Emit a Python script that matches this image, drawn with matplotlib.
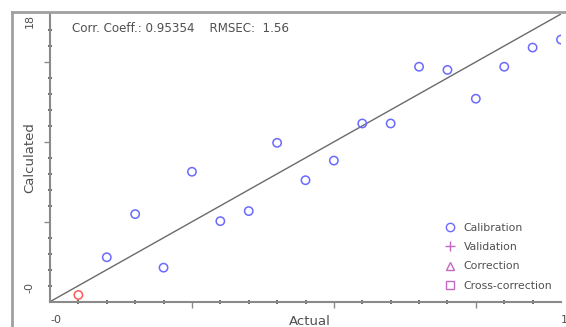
#!/usr/bin/env python3
import numpy as np
import matplotlib.pyplot as plt
from matplotlib.lines import Line2D

actual = [1, 2, 3, 4, 5, 6, 7, 8, 9, 10, 11, 12, 13, 14, 15, 16, 17, 18]
calculated = [0.42, 2.78, 5.48, 2.13, 8.13, 5.04, 5.67, 9.94, 7.6, 8.83,
              11.15, 11.15, 14.7, 14.5, 12.7, 14.7, 15.9, 16.4]
selected = [0]  # index of the highlighted (red) sample
corr_coeff = 0.95354
rmsec = 1.56
legend_names = ['Calibration', 'Validation', 'Correction', 'Cross-correction']

W, H = 566, 327
fig = plt.figure(figsize=(W / 100, H / 100), dpi=100)
ax = fig.add_axes([50 / W, 1 - 301.7 / H, 511 / W, 287.7 / H])

blue = '#6a6aff'
purple = '#c468c4'
grey = '#8a8a8a'
txt = '#505050'

# ideal line
ax.plot([0, 18], [0, 18], color='#6a6a6a', lw=1.0, zorder=2)

x = np.array(actual)
y = np.array(calculated)
mask = np.ones(len(x), bool)
mask[selected] = False
ax.scatter(x[mask], y[mask], s=36, facecolors='none', edgecolors=blue,
           linewidths=1.1, zorder=3)
ax.scatter(x[~mask], y[~mask], s=36, facecolors='none', edgecolors='#ff5a5a',
           linewidths=1.1, zorder=3)

ax.set_xlim(0, 18)
ax.set_ylim(0, 18)
ax.set_xticks([5, 10, 15])
ax.set_yticks([5, 10, 15])
ax.set_xticks(range(1, 18), minor=True)
ax.set_yticks(range(1, 18), minor=True)
ax.tick_params(which='major', length=4, width=1, color=grey, direction='out',
               labelbottom=False, labelleft=False)
ax.tick_params(which='minor', length=3.5, width=1.3, color='#606060',
               direction='inout')
for s in ['top', 'right']:
    ax.spines[s].set_visible(False)
for s in ['left', 'bottom']:
    ax.spines[s].set_color(grey)
    ax.spines[s].set_linewidth(1.5)

fs = 8
ax.text(0.508, -0.045, 'Actual', transform=ax.transAxes, ha='center',
        va='top', fontsize=9.5, color=txt)
ax.text(-0.04, 0.5, 'Calculated', transform=ax.transAxes, ha='center',
        va='center', rotation=90, fontsize=9.5, color=txt)
ax.text(0.0, -0.045, '-0', transform=ax.transAxes, ha='left', va='top',
        fontsize=fs, color=txt)
ax.text(1.0, -0.045, '18', transform=ax.transAxes, ha='left', va='top',
        fontsize=fs, color=txt)
ax.text(-0.04, 1.0, '18', transform=ax.transAxes, ha='center', va='top',
        rotation=90, fontsize=fs, color=txt)
ax.text(-0.04, 0.03, '-0', transform=ax.transAxes, ha='center',
        va='bottom', rotation=90, fontsize=fs, color=txt)
ax.text(0.043, 0.95, 'Corr. Coeff.: %.5f    RMSEC:  %.2f' % (corr_coeff, rmsec),
        transform=ax.transAxes, ha='left', va='center', fontsize=8.6,
        color=txt)

handles = [
    Line2D([], [], ls='none', marker='o', mfc='none', mec=blue, ms=6),
    Line2D([], [], ls='none', marker='+', color=purple, ms=7),
    Line2D([], [], ls='none', marker='^', mfc='none', mec=purple, ms=6),
    Line2D([], [], ls='none', marker='s', mfc='none', mec=purple, ms=6),
]
ax.legend(handles, legend_names, loc='lower right',
          bbox_to_anchor=(0.998, 0.012), frameon=False, fontsize=7.8,
          labelcolor=txt, handlelength=1.0, handletextpad=0.8,
          labelspacing=0.85, borderpad=0.2)

# outer frame (only left and top edges visible)
fig.add_artist(Line2D([12 / W, 12 / W], [0, 1 - 12 / H], color='#a0a0a0',
                      lw=2, transform=fig.transFigure))
fig.add_artist(Line2D([12 / W, 1], [1 - 12 / H, 1 - 12 / H], color='#a0a0a0',
                      lw=2, transform=fig.transFigure))

fig.savefig('out.png', dpi=100)
